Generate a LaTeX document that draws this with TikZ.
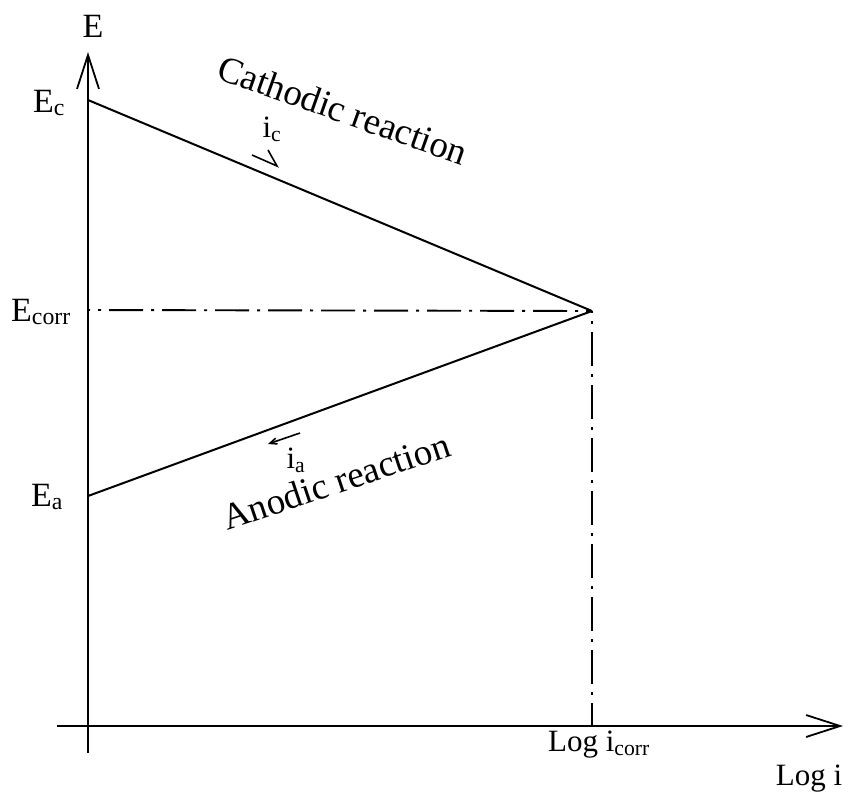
\documentclass[tikz,border=0pt]{standalone}
\usepackage{fontspec}
\setmainfont{Liberation Serif}
\usepackage{tikz}
\usetikzlibrary{arrows.meta,positioning}

\begin{document}
\begin{tikzpicture}[
  x=1pt, y=-1pt,
  axis/.style={draw, line width=2.2pt, -{Straight Barb[length=34pt, width=22pt, line width=1.8pt]}},
  curve/.style={draw, line width=2pt},
  guide/.style={draw, line width=1.9pt, dash pattern=on 34pt off 8pt on 3pt off 8pt, dash phase=32pt},
  axlabel/.style={font=\fontsize{34}{40}\selectfont, inner sep=0pt},
  loglabel/.style={font=\fontsize{31}{37}\selectfont, inner sep=0pt},
  reaction/.style={font=\fontsize{37}{44}\selectfont, inner sep=0pt},
  flow/.style={draw, line width=1.6pt}
]
  \useasboundingbox (0,0) rectangle (857,796);

  % Axes
  \coordinate (ybot) at (88,753);
  \coordinate (ytop) at (88,52);
  \coordinate (xleft) at (57,726);
  \coordinate (xright) at (843,726);
  \path[axis] (ybot) -- (ytop);
  \path[axis, line width=1.8pt] (xleft) -- (xright);

  % Key points
  \coordinate (Ec) at (88,100);
  \coordinate (Ecorr) at (88,310);
  \coordinate (Ea) at (88,496);
  \coordinate (P) at (592,311);
  \coordinate (Pfoot) at (592,726);

  % Tafel lines
  \path[curve] (Ec) -- (P);
  \path[curve] (Ea) -- (P);
  \path[guide] (Ecorr) -- (P);
  \path[guide] (P) -- (Pfoot);

  % Axis labels
  \node[axlabel] (lE) at (93,26) {E};
  \node[axlabel] (lEc) at (49,103) {E\textsubscript{c}};
  \node[axlabel] (lEcorr) at (41,312) {E\textsubscript{corr}};
  \node[axlabel] (lEa) at (47,497) {E\textsubscript{a}};
  \node[loglabel] (licorr) at (599,745) {Log i\textsubscript{corr}};
  \node[loglabel] (li) at (809,779) {Log i};

  % Reactions
  \node[reaction, rotate=-19.5] (cath) at (343,110) {Cathodic reaction};
  \node[reaction, rotate=18.5] (anod) at (336,481) {Anodic reaction};

  % Current directions
  \node[loglabel] (ic) at (272,129) {i\textsubscript{c}};
  \path[flow] (252,155) -- (277,166) -- (268,150);
  \node[loglabel] (ia) at (296,460) {i\textsubscript{a}};
  \path[flow, -{Straight Barb[length=7pt, width=6pt]}] (300,433) -- (268,444);
\end{tikzpicture}
\end{document}
